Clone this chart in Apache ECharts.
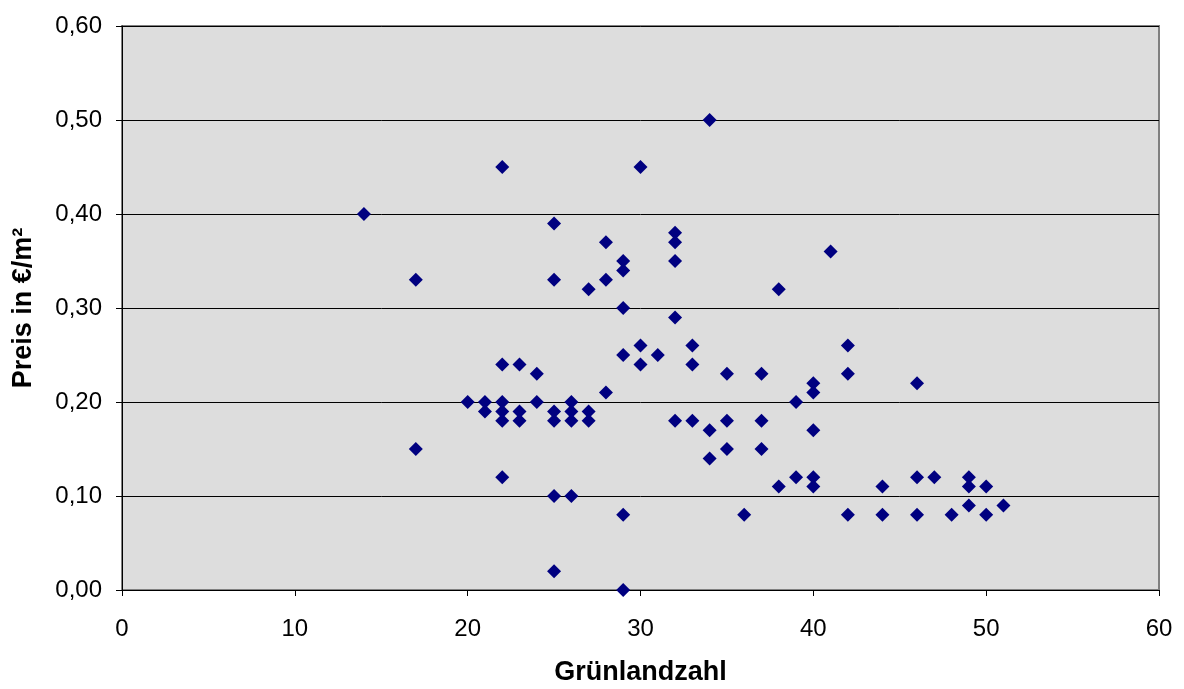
<!DOCTYPE html>
<html>
<head>
<meta charset="utf-8">
<style>
  html, body { margin: 0; padding: 0; background: #ffffff; }
  #chart { width: 1184px; height: 689px; }
</style>
<script src="https://cdn.jsdelivr.net/npm/echarts@6/dist/echarts.min.js"></script>
</head>
<body>
<div id="chart"></div>
<script>
// Grünlandzahl (x) and price per m² (y) of each sale, paired by index
const gruenlandzahl = [
  14,
  17, 17,
  20,
  21, 21,
  22, 22, 22, 22, 22, 22,
  23, 23, 23,
  24, 24,
  25, 25, 25, 25, 25, 25,
  26, 26, 26, 26,
  27, 27, 27,
  28, 28, 28,
  29, 29, 29, 29, 29, 29,
  30, 30, 30,
  31,
  32, 32, 32, 32, 32,
  33, 33, 33,
  34, 34, 34,
  35, 35, 35,
  36,
  37, 37, 37,
  38, 38,
  39, 39,
  40, 40, 40, 40, 40,
  41,
  42, 42, 42,
  44, 44,
  46, 46, 46,
  47,
  48,
  49, 49, 49,
  50, 50,
  51
];
const preis = [
  0.40,
  0.33, 0.15,
  0.20,
  0.20, 0.19,
  0.45, 0.24, 0.20, 0.19, 0.18, 0.12,
  0.24, 0.19, 0.18,
  0.23, 0.20,
  0.39, 0.33, 0.19, 0.18, 0.10, 0.02,
  0.20, 0.19, 0.18, 0.10,
  0.32, 0.19, 0.18,
  0.37, 0.33, 0.21,
  0.35, 0.34, 0.30, 0.25, 0.08, 0.00,
  0.45, 0.26, 0.24,
  0.25,
  0.38, 0.37, 0.35, 0.29, 0.18,
  0.26, 0.24, 0.18,
  0.50, 0.17, 0.14,
  0.23, 0.18, 0.15,
  0.08,
  0.23, 0.18, 0.15,
  0.32, 0.11,
  0.20, 0.12,
  0.22, 0.21, 0.17, 0.12, 0.11,
  0.36,
  0.26, 0.23, 0.08,
  0.11, 0.08,
  0.22, 0.12, 0.08,
  0.12,
  0.08,
  0.12, 0.11, 0.09,
  0.11, 0.08,
  0.09
];

const xTitle = 'Grünlandzahl';
const yTitle = 'Preis in €/m²';

const points = gruenlandzahl.map((g, i) => [g, preis[i]]);

const chart = echarts.init(document.getElementById('chart'), null, { renderer: 'canvas' });
const font = '"Liberation Sans", Arial, Helvetica, sans-serif';

chart.setOption({
  animation: false,
  backgroundColor: '#ffffff',
  textStyle: { fontFamily: font },
  grid: {
    left: 122, top: 26, right: 25, bottom: 99,
    containLabel: false,
    outerBoundsMode: 'none',
    show: true,
    backgroundColor: '#dddddd',
    borderColor: '#808080',
    borderWidth: 2
  },
  xAxis: {
    type: 'value',
    min: 0, max: 60, interval: 10,
    name: xTitle,
    nameLocation: 'middle',
    nameGap: 69,
    nameTextStyle: { fontFamily: font, fontSize: 27, fontWeight: 'bold', color: '#000' },
    axisLine: { show: true, onZero: false, lineStyle: { color: '#000', width: 1 } },
    axisTick: { show: true, inside: false, length: 6, lineStyle: { color: '#000' } },
    axisLabel: { margin: 27, fontFamily: font, fontSize: 24, color: '#000' },
    splitLine: { show: false }
  },
  yAxis: {
    type: 'value',
    min: 0, max: 0.6, interval: 0.1,
    name: yTitle,
    nameLocation: 'middle',
    nameRotate: 90,
    nameGap: 85,
    nameTextStyle: { fontFamily: font, fontSize: 27, fontWeight: 'bold', color: '#000' },
    axisLine: { show: true, onZero: false, lineStyle: { color: '#000', width: 1 } },
    axisTick: { show: true, inside: false, length: 6, lineStyle: { color: '#000' } },
    axisLabel: {
      margin: 20, fontFamily: font, fontSize: 24, color: '#000',
      formatter: v => v.toFixed(2).replace('.', ',')
    },
    splitLine: { show: true, lineStyle: { color: '#000', width: 1 } }
  },
  series: [{
    type: 'scatter',
    data: points,
    symbol: 'diamond',
    symbolSize: 14,
    itemStyle: { color: '#000080', opacity: 1 },
    emphasis: { disabled: true }
  }]
});
</script>
</body>
</html>
